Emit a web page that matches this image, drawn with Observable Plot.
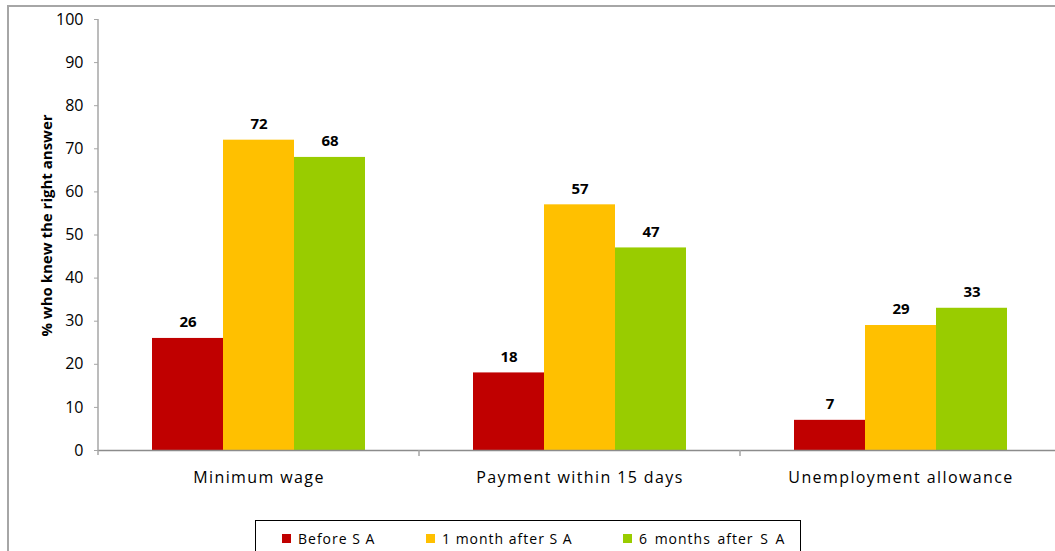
<!DOCTYPE html>
<html>
<head>
<meta charset="utf-8">
<script src="https://cdn.jsdelivr.net/npm/d3@7"></script>
<script src="https://cdn.jsdelivr.net/npm/@observablehq/plot@0.6"></script>
<style>
  html, body { margin: 0; padding: 0; background: #fff; overflow: hidden; }
  body { width: 1055px; height: 551px; position: relative; font-family: "Open Sans", sans-serif; }
  #frame { position: absolute; left: 7px; top: 5px; width: 1100px; height: 600px; border: 2px solid #a6a6a6; box-sizing: border-box; }
  #chart { position: absolute; left: 0; top: 0; }
  #chart svg { background: transparent; }
  [aria-label="fx-axis tick label"] text { letter-spacing: 1.4px; }
  #legend { position: absolute; left: 255px; top: 520px; width: 546px; height: 50px; border: 1px solid #000; background: #fff; box-sizing: border-box; }
  .item { position: absolute; top: 8px; display: flex; align-items: center; font-size: 14px; letter-spacing: 1px; color: #000; white-space: pre; }
  .swatch { width: 9px; height: 9px; margin-right: 7px; }
</style>
</head>
<body>
<div id="frame"></div>
<div id="chart"></div>
<div id="legend"></div>
<script>
// Knowledge of workers' rights before and after the SA sessions
const categories = ["Minimum wage", "Payment within 15 days", "Unemployment allowance"];
const series = ["Before S A", "1 month after S A", "6 months after S A"];
const beforeSA = [26, 18, 7];
const oneMonthAfterSA = [72, 57, 29];
const sixMonthsAfterSA = [68, 47, 33];
const seriesColors = ["#C00000", "#FFC000", "#99CC00"];
const yTicks = [0, 10, 20, 30, 40, 50, 60, 70, 80, 90, 100];
const yTitle = "% who knew the right answer";

const seriesValues = [beforeSA, oneMonthAfterSA, sixMonthsAfterSA];
const rows = [];
categories.forEach((category, i) => {
  series.forEach((s, j) => rows.push({category, series: s, value: seriesValues[j][i]}));
});

const chart = Plot.plot({
  width: 1055,
  height: 500,
  marginTop: 19,
  marginBottom: 50,
  marginLeft: 97,
  marginRight: 0,
  style: {fontFamily: "Open Sans, sans-serif", background: "transparent", overflow: "visible"},
  fx: {domain: categories, range: [97, 1062], padding: 0, label: null},
  x: {domain: series, paddingInner: 0, paddingOuter: 0.73, axis: null},
  y: {domain: [0, 100], ticks: yTicks, label: null},
  color: {domain: series, range: seriesColors},
  marks: [
    Plot.axisY({ticks: yTicks, tickSize: 4, tickPadding: 11, fontSize: 16, stroke: "#a6a6a6", fill: "#000", label: null}),
    Plot.axisFx({anchor: "bottom", tickSize: 0, tickPadding: 21, fontSize: 16, fill: "#000", label: null}),
    Plot.barY(rows, {fx: "category", x: "series", y: "value", fill: "series"}),
    Plot.ruleY([0], {stroke: "#8c8c8c", strokeWidth: 1.5}),
    Plot.text(rows, {fx: "category", x: "series", y: "value", text: d => String(d.value), dy: -16, fontSize: 15, fontWeight: "bold", fill: "#000"})
  ]
});

document.getElementById("chart").appendChild(chart);

// Axis line, category separators and the rotated y title, placed with the plot's scales
const svg = d3.select(chart);
const y = chart.scale("y");
const fx = chart.scale("fx");
const y0 = y.apply(0);
const y100 = y.apply(100);
const xLeft = fx.apply(categories[0]);

svg.append("line")
  .attr("x1", xLeft).attr("x2", xLeft)
  .attr("y1", y100).attr("y2", y0 + 5)
  .attr("stroke", "#a6a6a6").attr("stroke-width", 1.5);

categories.slice(1).forEach(c => {
  const x = fx.apply(c);
  svg.append("line")
    .attr("x1", x).attr("x2", x)
    .attr("y1", y0).attr("y2", y0 + 6)
    .attr("stroke", "#a6a6a6").attr("stroke-width", 1.5);
});

svg.append("text")
  .attr("transform", `translate(48,${(y0 + y100) / 2 - 9}) rotate(-90)`)
  .attr("text-anchor", "middle")
  .attr("dominant-baseline", "middle")
  .attr("font-size", 15)
  .attr("font-weight", "bold")
  .attr("fill", "#000")
  .text(yTitle);

// Legend box under the chart
const legendOffsets = [26, 170, 367];
const legend = d3.select("#legend");
series.forEach((s, i) => {
  const item = legend.append("div").attr("class", "item").style("left", legendOffsets[i] + "px");
  item.append("div").attr("class", "swatch").style("background", seriesColors[i]);
  item.append("span").text(s).style("word-spacing", i === 2 ? "2px" : "0px");
});
</script>
</body>
</html>
